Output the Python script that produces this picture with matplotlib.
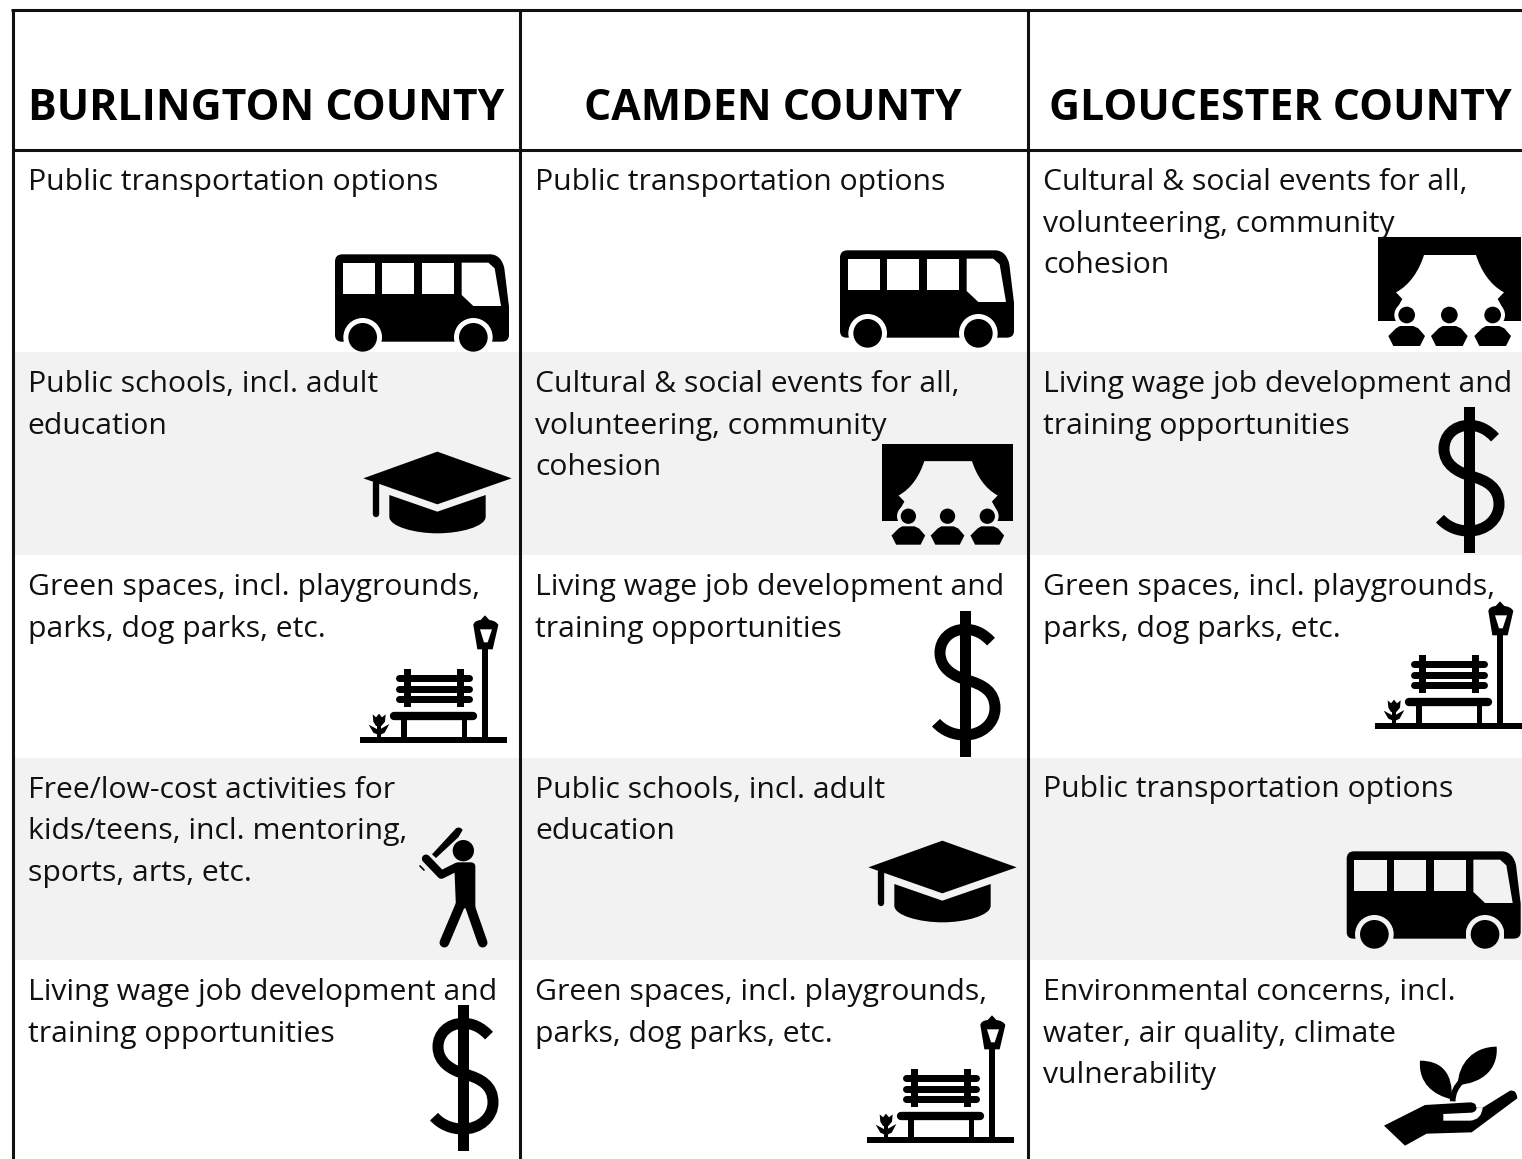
import matplotlib
matplotlib.use('Agg')
import matplotlib.pyplot as plt
from matplotlib.patches import PathPatch, Circle, Polygon, Rectangle
from matplotlib.path import Path
from matplotlib.transforms import Affine2D

counties = ['BURLINGTON COUNTY', 'CAMDEN COUNTY', 'GLOUCESTER COUNTY']

burlington = [
    ['Public transportation options'],
    ['Public schools, incl. adult', 'education'],
    ['Green spaces, incl. playgrounds,', 'parks, dog parks, etc.'],
    ['Free/low-cost activities for', 'kids/teens, incl. mentoring,', 'sports, arts, etc.'],
    ['Living wage job development and', 'training opportunities'],
]
camden = [
    ['Public transportation options'],
    ['Cultural & social events for all,', 'volunteering, community', 'cohesion'],
    ['Living wage job development and', 'training opportunities'],
    ['Public schools, incl. adult', 'education'],
    ['Green spaces, incl. playgrounds,', 'parks, dog parks, etc.'],
]
gloucester = [
    ['Cultural & social events for all,', 'volunteering, community', 'cohesion'],
    ['Living wage job development and', 'training opportunities'],
    ['Green spaces, incl. playgrounds,', 'parks, dog parks, etc.'],
    ['Public transportation options'],
    ['Environmental concerns, incl.', 'water, air quality, climate', 'vulnerability'],
]
columns = [burlington, camden, gloucester]

# which icon sits where: (name, origin x, origin y, scale)
icons_burlington = [('bus', 320, 240, 1), ('hat', 320, 240, 1), ('bench', 350, 610, 1),
                    ('batter', 350, 610, 1), ('dollar', 418, 994, 1)]
icons_camden = [('bus', 825, 236, 1), ('curtain', 874.7, 438.2, 0.918), ('dollar', 920, 600, 1),
                ('hat', 825, 629, 1), ('bench', 857, 1010, 1)]
icons_gloucester = [('curtain', 1370, 230, 1), ('dollar', 1424, 396, 1), ('bench', 1365, 596, 1),
                    ('bus', 1331.7, 837, 1), ('plant', 1370, 1030, 1)]
column_icons = [icons_burlington, icons_camden, icons_gloucester]

GREY = '#f2f2f2'
INK = '#000000'
col_lines = [12.5, 520, 1028]
col_centers = [266, 773, 1280]
text_lefts = [27.5, 535, 1043]
row_tops = [150, 352, 555, 757.5, 960, 1165]

fig = plt.figure(figsize=(15.22, 11.59), dpi=100)
ax = fig.add_axes([0, 0, 1, 1])
ax.set_xlim(0, 1522)
ax.set_ylim(1159, 0)
ax.axis('off')


class Icon:
    # icons are traced in 3x zoomed pixels, so everything is divided by 3 here
    def __init__(self, x, y, s, bg):
        self.tr = Affine2D().scale(s / 3).translate(x, y) + ax.transData
        self.s = s
        self.bg = bg

    def poly(self, pts, color=INK):
        ax.add_patch(Polygon(pts, closed=True, fc=color, ec='none', transform=self.tr, zorder=3))

    def rect(self, x0, y0, x1, y1, color=INK):
        ax.add_patch(Rectangle((x0, y0), x1 - x0, y1 - y0, fc=color, ec='none', transform=self.tr, zorder=3))

    def circle(self, x, y, r, color=INK, clip_below=None):
        c = Circle((x, y), r, fc=color, ec='none', transform=self.tr, zorder=3)
        ax.add_patch(c)
        if clip_below is not None:
            c.set_clip_path(Rectangle((x - r, y - r), 2 * r, clip_below - y + r, transform=self.tr))

    def path(self, verts, codes, color=INK):
        ax.add_patch(PathPatch(Path(verts, codes), fc=color, ec='none', transform=self.tr, zorder=3))

    def stroke(self, verts, codes, w, cap='round'):
        ax.add_patch(PathPatch(Path(verts, codes), fc='none', ec=INK, lw=w / 3 * self.s * 0.72,
                               capstyle=cap, joinstyle='round', transform=self.tr, zorder=3))

    def line(self, pts, w, cap='round'):
        codes = [Path.MOVETO] + [Path.LINETO] * (len(pts) - 1)
        self.stroke(pts, codes, w, cap)


M, L, Q, C, Z = Path.MOVETO, Path.LINETO, Path.CURVE3, Path.CURVE4, Path.CLOSEPOLY


def draw_bus(ic):
    verts = [(45, 65), (45, 43), (67, 43), (510, 43), (535, 43), (548, 62), (553, 85), (567, 200), (567, 285),
             (567, 305), (545, 305), (65, 305), (45, 305), (45, 285), (45, 65)]
    codes = [M, Q, Q, L, C, C, C, L, L, Q, Q, L, Q, Q, Z]
    ic.path(verts, codes)
    ic.rect(68, 68, 165, 163, ic.bg)
    ic.rect(187, 68, 283, 163, ic.bg)
    ic.rect(306, 68, 402, 163, ic.bg)
    ic.poly([(425, 68), (505, 68), (524, 85), (543, 198), (460, 198), (425, 165)], ic.bg)
    for wx in (128, 460):
        ic.circle(wx, 292, 58, ic.bg, clip_below=306)
        ic.circle(wx, 292, 43)


def draw_hat(ic):
    ic.poly([(352, 635), (575, 715), (352, 793), (130, 715)])
    ic.line([(168, 728), (168, 821)], 19)
    ic.path([(208, 765), (352, 815), (497, 765), (497, 830), (497, 860), (420, 880), (352, 880), (285, 880),
             (208, 860), (208, 830), (208, 765)], [M, L, L, L, C, C, C, C, C, C, Z])


def draw_bench(ic):
    ic.rect(30, 380, 472, 398)
    ic.rect(397, 110, 415, 380)
    ic.path([(370, 45), (372, 32), (392, 30), (405, 16), (418, 30), (438, 32), (445, 45), (428, 118), (382, 118),
             (370, 45)], [M, Q, Q, L, L, Q, Q, L, L, Z])
    ic.poly([(390, 58), (426, 58), (413, 97), (402, 97)], ic.bg)
    ic.line([(132, 317), (370, 317)], 25)
    ic.rect(153, 330, 170, 380)
    ic.rect(335, 330, 352, 380)
    for sy in (205, 237, 268):
        ic.line([(147, sy), (356, sy)], 21)
    ic.rect(161, 178, 182, 292)
    ic.rect(321, 178, 342, 292)
    # flower
    ic.rect(80, 345, 94, 380)
    ic.poly([(56, 344), (86, 360), (118, 342), (104, 368), (88, 376), (70, 368)])
    ic.poly([(68, 313), (78, 322), (87, 311), (96, 322), (107, 313), (105, 335), (94, 348), (78, 348), (70, 335)])


def draw_batter(ic):
    ic.circle(340, 722, 32)
    ic.path([(313, 770), (313, 757), (330, 757), (362, 757), (376, 757), (376, 770), (376, 895), (318, 895),
             (313, 770)], [M, Q, Q, L, Q, Q, L, L, Z])
    ic.line([(355, 875), (398, 998)], 29)
    ic.line([(335, 875), (283, 998)], 29)
    ic.line([(228, 746), (274, 794), (322, 770)], 25)
    ic.path([(318, 655), (330, 648), (338, 660), (325, 682), (258, 744), (246, 733), (318, 655)],
            [M, Q, Q, L, L, L, Z])
    ic.line([(210, 768), (222, 780)], 5)


def draw_dollar(ic):
    ic.rect(120, 33, 152, 472)
    verts = [(213, 125), (190, 100), (165, 88), (135, 88), (90, 88), (60, 120), (60, 158), (60, 205), (100, 228),
             (140, 240), (190, 254), (225, 275), (225, 325), (225, 370), (185, 405), (135, 405), (100, 405),
             (70, 392), (48, 368)]
    codes = [M] + [C] * 18
    ic.stroke(verts, codes, 33, 'butt')


def draw_curtain(ic):
    ic.rect(25, 20, 453, 272)
    ic.path([(162, 75), (318, 75), (332, 120), (360, 165), (402, 187), (383, 207), (397, 232), (397, 274),
             (83, 274), (83, 232), (97, 207), (78, 187), (120, 165), (148, 120), (162, 75), (162, 75)],
            [M, L, C, C, C, L, L, L, L, L, L, L, C, C, C, Z], ic.bg)
    for hx in (110, 238, 368):
        if hx != 238:
            ic.circle(hx, 255, 37, ic.bg)
        ic.circle(hx, 255, 25)
        ic.poly([(hx - 55, 318), (hx - 32, 295), (hx - 20, 288), (hx + 20, 288), (hx + 35, 295), (hx + 55, 318),
                 (hx + 40, 348), (hx - 40, 348)])


def draw_plant(ic):
    ic.path([(42, 287), (165, 225), (300, 217), (320, 218), (318, 232), (338, 233), (420, 182), (440, 178), (442, 205),
             (305, 307), (170, 311), (105, 347), (42, 287)], [M, L, L, Q, Q, L, L, Q, Q, L, L, L, Z])
    ic.path([(220, 252), (305, 248), (320, 245), (320, 232), (338, 232), (335, 270), (300, 272), (220, 272),
             (220, 252)], [M, L, Q, Q, L, Q, Q, L, Z], ic.bg)
    ic.path([(150, 92), (215, 92), (250, 130), (245, 208), (190, 195), (145, 160), (150, 92)],
            [M, C, C, C, C, C, C])
    ic.path([(380, 50), (385, 115), (340, 160), (263, 165), (265, 100), (310, 50), (380, 50)],
            [M, C, C, C, C, C, C])
    ic.stroke([(248, 214), (248, 178), (278, 150)], [M, Q, Q], 17, 'butt')


draw_funcs = {'bus': draw_bus, 'hat': draw_hat, 'bench': draw_bench, 'batter': draw_batter,
              'dollar': draw_dollar, 'curtain': draw_curtain, 'plant': draw_plant}

# grey bands first, grid lines on top
for i in (1, 3):
    ax.add_patch(Rectangle((col_lines[0], row_tops[i]), 1522 - col_lines[0], row_tops[i + 1] - row_tops[i],
                           fc=GREY, ec='none', zorder=1))

for c in range(3):
    for r in range(5):
        bg = GREY if r % 2 == 1 else 'white'
        name, x, y, s = column_icons[c][r]
        draw_funcs[name](Icon(x, y, s, bg))

        for n, line in enumerate(columns[c][r]):
            ax.text(text_lefts[c], row_tops[r] + 40 + n * 41.6, line, family='Open Sans', fontsize=21.72,
                    color='#111111', ha='left', va='baseline', zorder=4)
    ax.text(col_centers[c], 120, counties[c], family='Open Sans', weight='bold', fontsize=30.8,
            color='black', ha='center', va='baseline', zorder=4)

for x in col_lines:
    ax.plot([x, x], [10, 1159], color='#111111', lw=2.2, solid_capstyle='butt', zorder=5)
ax.plot([col_lines[0] - 1.5, 1522], [10, 10], color='#111111', lw=2.2, solid_capstyle='butt', zorder=5)
ax.plot([col_lines[0], 1522], [150, 150], color='#111111', lw=2.2, solid_capstyle='butt', zorder=5)

fig.savefig('out.png', dpi=100, facecolor='white')
